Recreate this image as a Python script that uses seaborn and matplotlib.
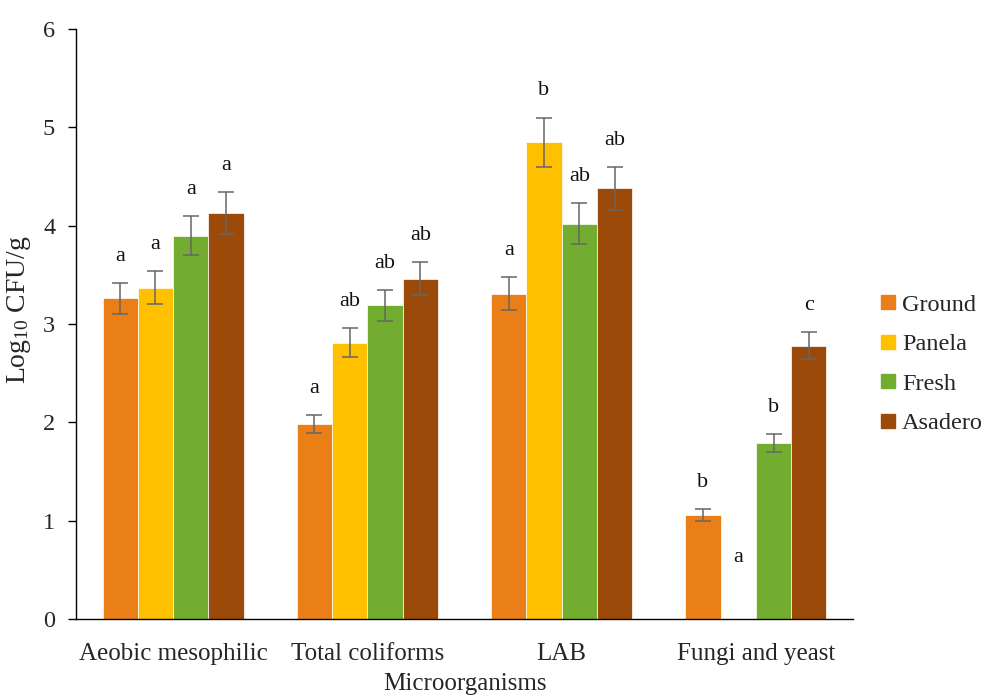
import matplotlib
matplotlib.use("Agg")
import matplotlib.pyplot as plt
import seaborn as sns
import pandas as pd
import numpy as np
from matplotlib.lines import Line2D

categories = ["Aeobic mesophilic", "Total coliforms", "LAB", "Fungi and yeast"]
cheeses = ["Ground", "Panela", "Fresh", "Asadero"]

ground = [3.26, 1.98, 3.31, 1.06]
panela = [3.37, 2.81, 4.85, 0.0]
fresh = [3.90, 3.19, 4.02, 1.79]
asadero = [4.13, 3.46, 4.38, 2.78]

ground_err = [0.16, 0.09, 0.17, 0.06]
panela_err = [0.17, 0.15, 0.25, 0.0]
fresh_err = [0.20, 0.16, 0.21, 0.09]
asadero_err = [0.21, 0.17, 0.22, 0.14]

ground_lbl = ["a", "a", "a", "b"]
panela_lbl = ["a", "ab", "b", "a"]
fresh_lbl = ["a", "ab", "ab", "b"]
asadero_lbl = ["a", "ab", "ab", "c"]

colors = ["#EA7F17", "#FFC000", "#72AD2F", "#9C4A09"]

values = [ground, panela, fresh, asadero]
errors = [ground_err, panela_err, fresh_err, asadero_err]
letters = [ground_lbl, panela_lbl, fresh_lbl, asadero_lbl]

rows = []
for ch, vals in zip(cheeses, values):
    for cat, v in zip(categories, vals):
        rows.append({"Microorganisms": cat, "Cheese": ch, "value": v})
df = pd.DataFrame(rows)

sns.set_theme(style="white")
plt.rcParams["font.family"] = ["Liberation Serif", "DejaVu Serif"]
plt.rcParams["mathtext.fontset"] = "custom"
plt.rcParams["mathtext.rm"] = "Liberation Serif"

fig = plt.figure(figsize=(9.85, 6.95), dpi=100)
ax = fig.add_axes([76 / 985, 1 - 619 / 695, (853 - 76) / 985, (619 - 29) / 695])

sns.barplot(data=df, x="Microorganisms", y="value", hue="Cheese",
            order=categories, hue_order=cheeses, palette=colors,
            width=0.726, errorbar=None, legend=False, ax=ax,
            edgecolor="white", linewidth=0.5, saturation=1)

for cont, errs, lbls in zip(ax.containers, errors, letters):
    for bar, e, lb in zip(cont, errs, lbls):
        xc = bar.get_x() + bar.get_width() / 2
        h = bar.get_height()
        if e > 0:
            ax.errorbar(xc, h, yerr=e, fmt="none", ecolor="#666666",
                        elinewidth=1.1, capsize=5.5, capthick=1.1, zorder=5)
        ytxt = max(h + e, 0.36) + 0.27
        ax.text(xc, ytxt, lb, ha="center", va="center", fontsize=16, color="#111111")

ax.set_xlim(-0.5, 3.5)
ax.set_ylim(0, 6)
ax.set_yticks(range(0, 7))
ax.set_ylabel(r"Log$\mathregular{_{10}}$ CFU/g", fontsize=20)
ax.yaxis.set_label_coords(-0.055, 0.525)
ax.set_xlabel("Microorganisms", fontsize=18, labelpad=6)

for s in ["top", "right"]:
    ax.spines[s].set_visible(False)
for s in ["left", "bottom"]:
    ax.spines[s].set_color("black")
    ax.spines[s].set_linewidth(1.0)

ax.tick_params(axis="y", which="both", direction="out", length=6, width=1,
               color="black", labelsize=17.5, pad=9, left=True)
ax.tick_params(axis="x", length=0, labelsize=18, pad=17)

handles = [Line2D([0], [0], marker="s", linestyle="none", markersize=10,
                  markerfacecolor=c, markeredgecolor=c) for c in colors]
fig.legend(handles, cheeses, loc="center left", bbox_to_anchor=(873 / 985, 1 - 364 / 695),
           frameon=False, fontsize=17.5, handlelength=0.8, handletextpad=0.2,
           labelspacing=0.72, borderaxespad=0, borderpad=0.2)

fig.savefig("out.png", dpi=100)
